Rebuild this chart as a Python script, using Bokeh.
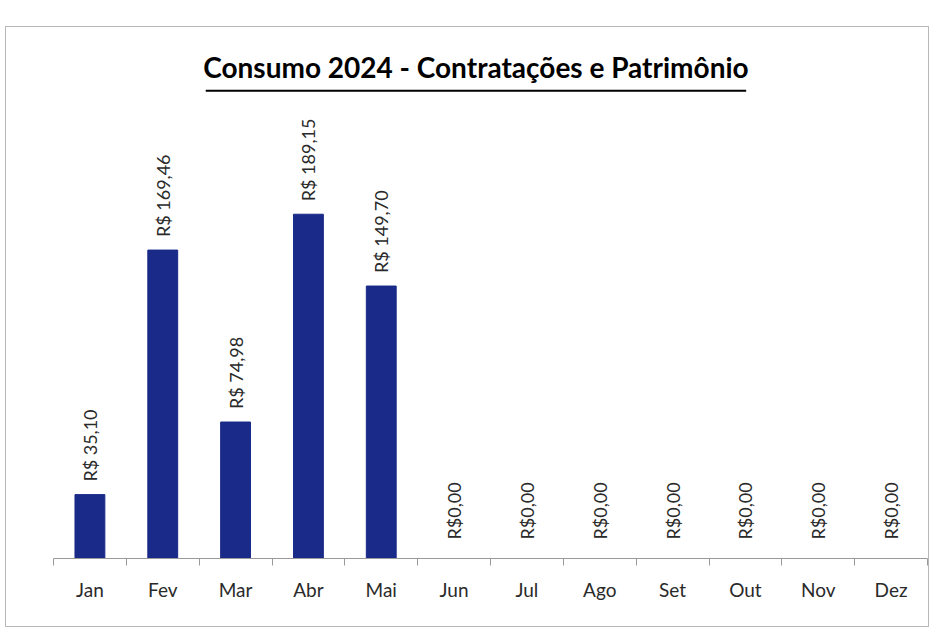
import math
from bokeh.plotting import figure
from bokeh.models import ColumnDataSource, FixedTicker
from bokeh.core.properties import value
from bokeh.embed import file_html
from bokeh.resources import INLINE

months = ["Jan", "Fev", "Mar", "Abr", "Mai", "Jun", "Jul", "Ago", "Set", "Out", "Nov", "Dez"]
values = [35.10, 169.46, 74.98, 189.15, 149.70, 0, 0, 0, 0, 0, 0, 0]
labels = ["R$ 35,10", "R$ 169,46", "R$ 74,98", "R$ 189,15", "R$ 149,70",
          "R$0,00", "R$0,00", "R$0,00", "R$0,00", "R$0,00", "R$0,00", "R$0,00"]
title_text = "Consumo 2024 - Contratações e Patrimônio"

xs = list(range(1, len(months) + 1))
offsets = [-13 if v > 0 else -19 for v in values]
src = ColumnDataSource(dict(x=xs, top=values, label=labels, off=offsets))

p = figure(width=924, height=601, output_backend="svg", toolbar_location=None,
           x_range=(0.5, 12.5), y_range=(0, 289), min_border_left=47,
           min_border_right=3, min_border_top=5, min_border_bottom=70)
p.styles = {"border": "1px solid #b8b8b8", "margin-left": "5px", "margin-top": "26px"}
p.outline_line_color = None
p.grid.visible = False
p.yaxis.visible = False

p.vbar(x="x", top="top", width=0.41, source=src, color="#1a2a88")
p.text(x="x", y="top", text="label", source=src, angle=math.pi / 2,
       text_align="left", text_baseline="middle", y_offset="off",
       text_font=value("Lato"), text_font_size="18px", text_color="#2a2a2a")

# title with underline
p.text(x=[6.30], y=[270], text=[title_text], text_align="center", text_baseline="middle",
       text_font=value("Lato"), text_font_size="28px", text_font_style="bold",
       text_color="#000000")
p.segment(x0=[2.59], y0=[257], x1=[10.01], y1=[257], line_color="#000000", line_width=2)

ax = p.xaxis[0]
ax.ticker = FixedTicker(ticks=xs, minor_ticks=[i + 0.5 for i in range(0, 13)])
ax.major_label_overrides = {i + 1: m for i, m in enumerate(months)}
ax.major_tick_line_color = None
ax.minor_tick_out = 7
ax.minor_tick_in = 0
ax.minor_tick_line_color = "#9a9a9a"
ax.axis_line_color = "#9a9a9a"
ax.major_label_standoff = 12
ax.major_label_text_font = "Lato"
ax.major_label_text_font_size = "19px"
ax.major_label_text_color = "#2a2a2a"

open("out.html", "w").write(file_html(p, INLINE))
